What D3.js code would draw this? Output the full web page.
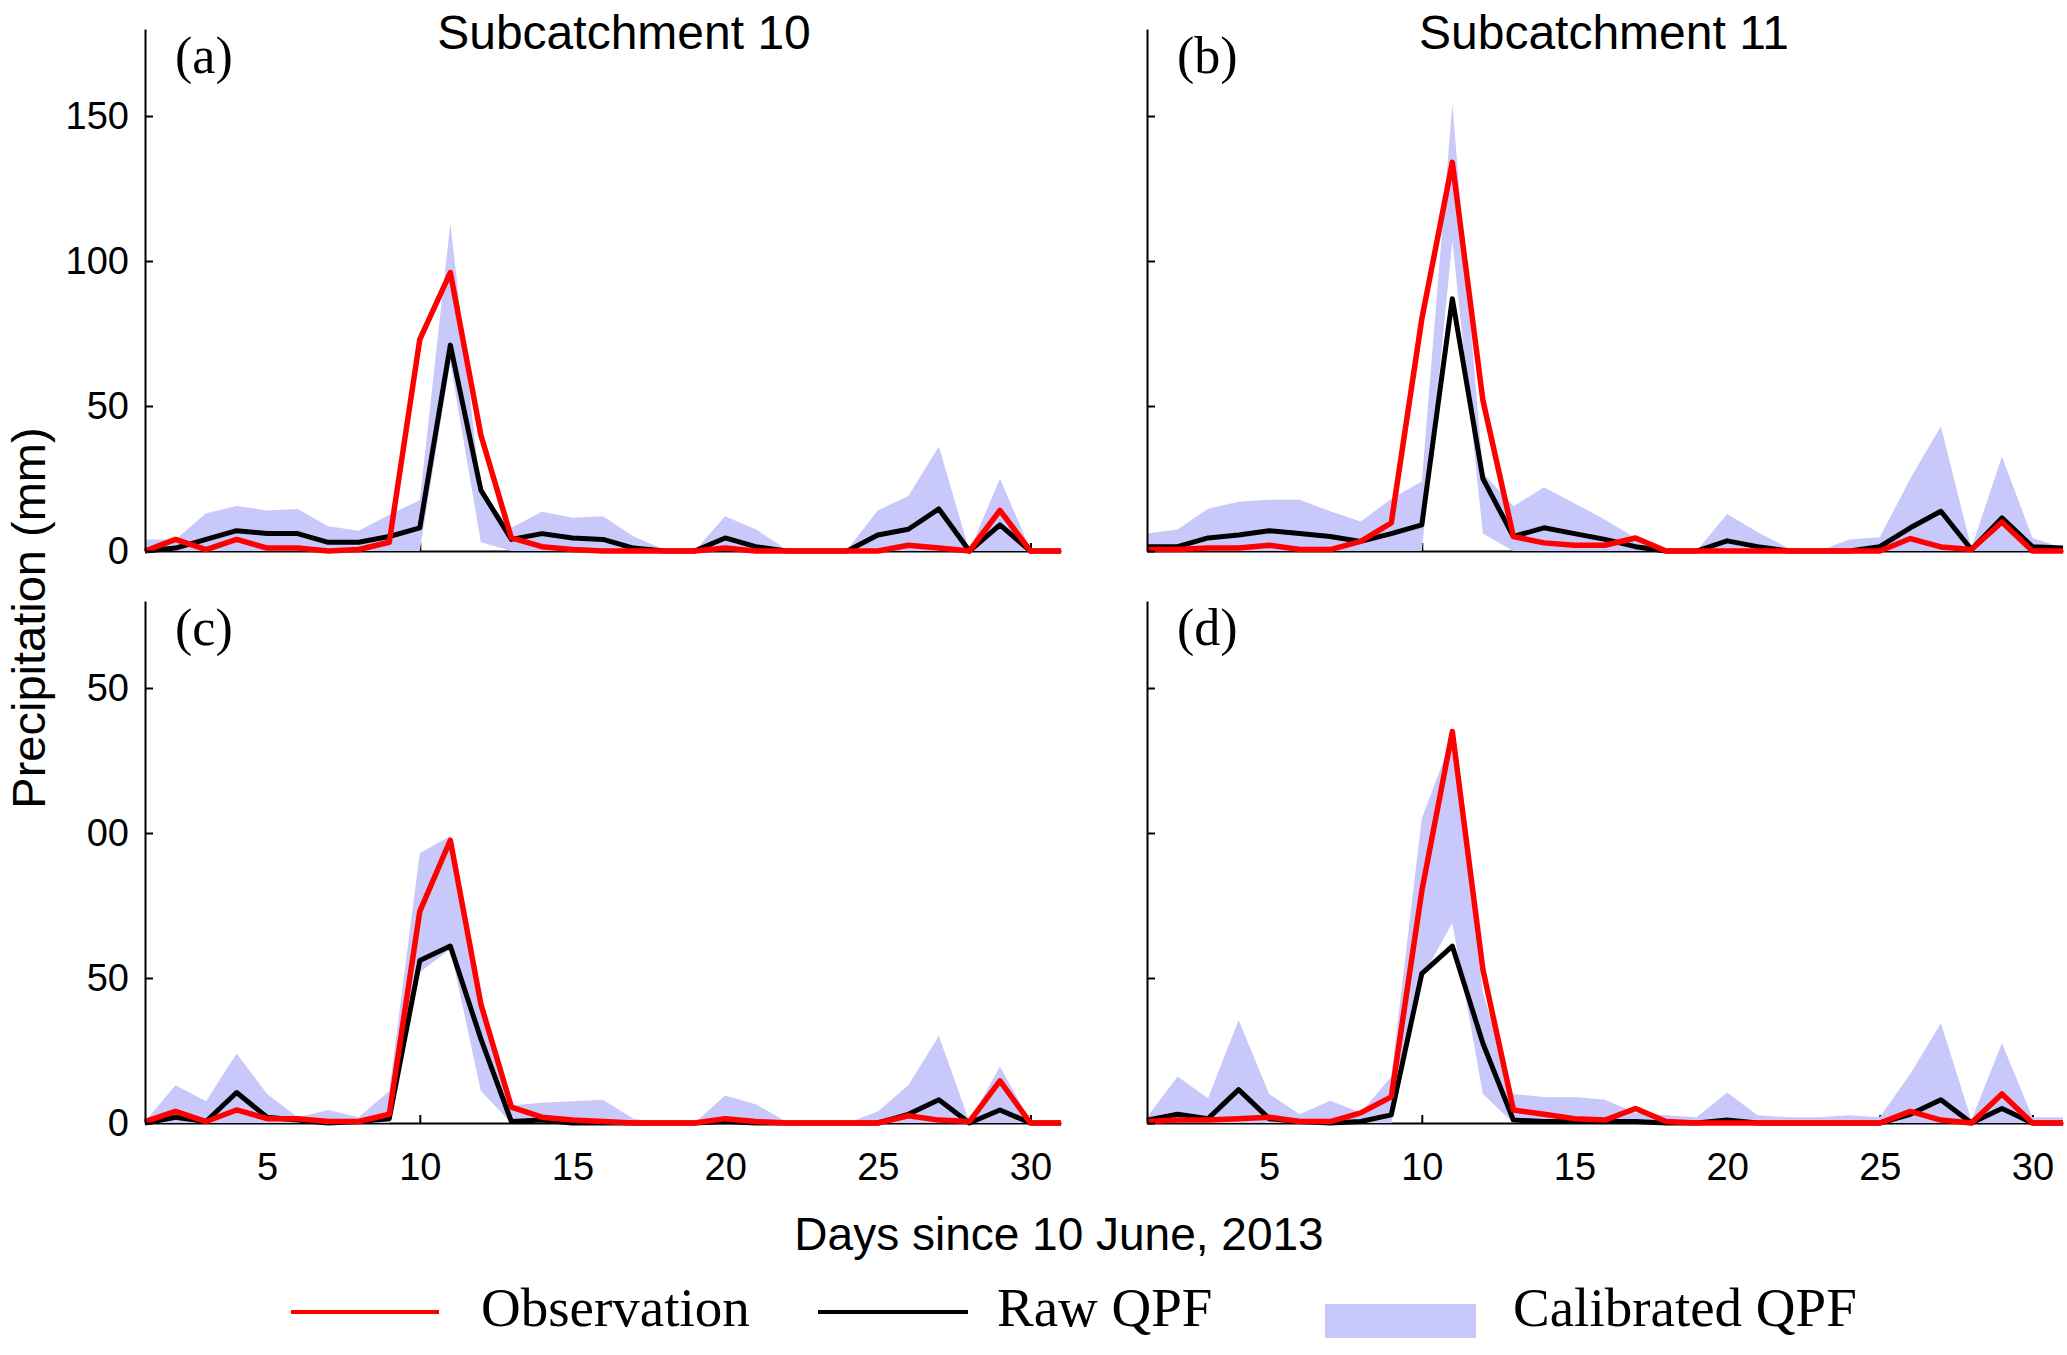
<!DOCTYPE html>
<html>
<head>
<meta charset="utf-8">
<script src="https://cdn.jsdelivr.net/npm/d3@7/dist/d3.min.js"></script>
<style>
	body { margin: 0; background: #fff; }
	.tick text { font-family: "Liberation Sans", Arial, sans-serif; }
</style>
</head>
<body>
<div id="chart"></div>
<script>

// Days since 10 June, 2013
var days = [1,2,3,4,5,6,7,8,9,10,11,12,13,14,15,16,17,18,19,20,21,22,23,24,25,26,27,28,29,30,31];

var xTicks = [5,10,15,20,25,30];
var yTicks = [0,50,100,150];
var yTickTextTop = ["0","50","100","150"];
var yTickTextBottom = ["0","50","00","50"];

var titles = ["Subcatchment 10", "Subcatchment 11"];
var panelLetters = ["(a)", "(b)", "(c)", "(d)"];

// (a) subcatchment 10, top row
var obsA = [0,4,0.5,4,1,1,0,0.5,3,73,96,40,4.5,1.5,0.5,0,0,0,0,1,0,0,0,0,0,2,1,0,14,0,0];
var rawA = [0,1,4,7,6,6,3,3,5,8,71,21,4,6,4.5,4,1,0,0,4.5,1.5,0,0,0,5.5,7.5,14.5,0,9,0,0];
var lowA = [0,0,0,0,0,0,0,0,0,0,65,3,0,0,0,0,0,0,0,0,0,0,0,0,0,0,0,0,0,0,0];
var upA  = [4,4,13,15.5,14,14.5,8.5,7,12.5,17.5,113,20,8,13.5,11.5,12,5,0.5,0,12,7.5,0.5,0,0.5,14,19,36,0,25,0.5,0];

// (b) subcatchment 11, top row
var obsB = [0.5,0.5,1,1,2,0.5,0.5,3.3,9.7,80,134,52,5,2.8,2,2,4.5,0,0,0,0,0,0,0,0,4.3,1.4,0.5,10,0,0];
var rawB = [1.5,1.5,4.5,5.5,7,6,5,3.3,6,9,87,25,5,8,6,4,1.5,0,0,3.5,1.5,0,0,0,1.5,8,13.7,0.5,11.4,1.5,1];
var lowB = [0,0,0,0,0,0,0,0,0,0,107,6,0,0,0,0,0,0,0,0,0,0,0,0,0,0,0,0,0,0,0];
var upB  = [6,7.4,14.6,17,17.7,17.7,13.7,10.2,18,24,154,27,15.4,22,16.5,10.8,4.5,0,0,12.8,6.5,1,0,4,4.7,25,43,1,32.6,4.5,1];

// (c) subcatchment 10, bottom row
var obsC = [0.5,4,0.5,4.5,1.5,1.5,0.5,0.5,3,73,97.5,41,5.5,2,1,0.5,0,0,0,1.5,0.5,0,0,0,0,2.5,1,0.5,14.5,0,0];
var rawC = [0,2,0.5,10.5,2,1,0,0.5,1.5,56,61,29,0.5,1,0,0,0,0,0,0.5,0,0,0,0,0,3,8,0,4.5,0,0];
var lowC = [0,0,0,0,0,0,0,0,0,52,60,11,0,0,0,0,0,0,0,0,0,0,0,0,0,0,0,0,0,0,0];
var upC  = [0.5,13,7.5,24,10,2,4.5,2,11,93,99,38,6,7,7.5,8,1.5,0,0,9.5,6.5,0.5,0,0,4,13,30,0.5,19.5,0.5,0];

// (d) subcatchment 11, bottom row
var obsD = [0.5,1,1,1.5,2,0.5,0.5,3.5,9,80,135,53,4.5,3,1.5,1,5,0.5,0,0,0,0,0,0,0,4,1,0,10,0,0];
var rawD = [1,3,1.5,11.5,1.5,0.5,0,0.5,2.8,51.5,61,27.5,1,0.5,0.5,0.5,0.5,0,0,1,0,0,0,0,0,3,8,0,5,0,0];
var lowD = [0,0,0,0,0,0,0,0,0,50,69,10,0,0,0,0,0,0,0,0,0,0,0,0,0,0,0,0,0,0,0];
var upD  = [2,16,8.5,35.5,10,3,7.7,3.5,16,105,133,45,10,9,9,8,3.5,2.7,2,10.5,2.7,2,2,2.7,2,17,34.4,1,27.5,2,2];

var legendLabels = ["Observation", "Raw QPF", "Calibrated QPF"];

var OBS_COLOR = "#ff0000",
	RAW_COLOR = "#000000",
	BAND_COLOR = "#c8c8fa";


var svg = d3.select("#chart").append("svg")
		.attr("width", 2067)
		.attr("height", 1355)
		.style("display", "block");


/*
 * PanelVis - one subplot
 */

PanelVis = function(_svg, _cfg){
	this.svg = _svg;
	this.cfg = _cfg;
	this.initVis();
}

PanelVis.prototype.initVis = function(){
	var vis = this;
	var c = vis.cfg;

	vis.width = 916;
	vis.height = 522;

	vis.g = vis.svg.append("g")
			.attr("transform", "translate(" + c.left + "," + (c.zero - vis.height) + ")");

	vis.x = d3.scaleLinear()
			.domain([1, 31])
			.range([0, vis.width]);

	vis.y = d3.scaleLinear()
			.domain([0, 180])
			.range([vis.height, 0]);

	vis.xAxis = d3.axisBottom(vis.x)
			.tickValues(xTicks)
			.tickSize(-8)
			.tickSizeOuter(0)
			.tickPadding(30)
			.tickFormat(function(d) { return c.showX ? d : ""; });

	vis.yAxis = d3.axisLeft(vis.y)
			.tickValues(yTicks)
			.tickSize(-8)
			.tickSizeOuter(0)
			.tickPadding(16)
			.tickFormat(function(d, i) { return c.yText ? c.yText[i] : ""; });

	vis.wrangleData();
}

PanelVis.prototype.wrangleData = function(){
	var vis = this;
	var c = vis.cfg;

	vis.displayData = days.map(function(day, i) {
		return { day: day, obs: c.obs[i], raw: c.raw[i], low: c.low[i], up: c.up[i] };
	});

	vis.updateVis();
}

PanelVis.prototype.updateVis = function(){
	var vis = this;
	var c = vis.cfg;

	// x axis sits underneath the band, like in the original
	var xg = vis.g.append("g")
			.attr("class", "x-axis axis")
			.attr("transform", "translate(0," + vis.height + ")")
			.call(vis.xAxis);

	var band = d3.area()
			.x(function(d) { return vis.x(d.day); })
			.y0(function(d) { return vis.y(d.low); })
			.y1(function(d) { return vis.y(d.up); });

	vis.g.append("path")
			.datum(vis.displayData)
			.attr("fill", BAND_COLOR)
			.attr("d", band);

	var rawLine = d3.line()
			.x(function(d) { return vis.x(d.day); })
			.y(function(d) { return vis.y(d.raw); });

	var obsLine = d3.line()
			.x(function(d) { return vis.x(d.day); })
			.y(function(d) { return vis.y(d.obs); });

	vis.g.append("path")
			.datum(vis.displayData)
			.attr("fill", "none")
			.attr("stroke", RAW_COLOR)
			.attr("stroke-width", 5)
			.attr("stroke-linejoin", "round")
			.attr("d", rawLine);

	vis.g.append("path")
			.datum(vis.displayData)
			.attr("fill", "none")
			.attr("stroke", OBS_COLOR)
			.attr("stroke-width", 5.5)
			.attr("stroke-linejoin", "round")
			.attr("d", obsLine);

	var yg = vis.g.append("g")
			.attr("class", "y-axis axis")
			.call(vis.yAxis);

	[xg, yg].forEach(function(a) {
		a.selectAll("path, line").attr("stroke", "#000").attr("stroke-width", 2);
		a.selectAll("text")
				.attr("fill", "#000")
				.style("font-family", "'Liberation Sans', Arial, sans-serif")
				.style("font-size", "38px");
	});

	vis.g.append("text")
			.attr("x", 30)
			.attr("y", 44)
			.style("font-family", "'Liberation Serif', 'Times New Roman', serif")
			.style("font-size", "52px")
			.text(c.letter);

	if (c.title) {
		vis.g.append("text")
				.attr("x", c.titleX)
				.attr("y", 20)
				.attr("text-anchor", "middle")
				.style("font-family", "'Liberation Sans', Arial, sans-serif")
				.style("font-size", "48px")
				.text(c.title);
	}
}


var panels = [
	{ left: 145,  zero: 551,  obs: obsA, raw: rawA, low: lowA, up: upA, yText: yTickTextTop,    showX: false, letter: panelLetters[0], title: titles[0], titleX: 479 },
	{ left: 1147, zero: 551,  obs: obsB, raw: rawB, low: lowB, up: upB, yText: null,            showX: false, letter: panelLetters[1], title: titles[1], titleX: 457 },
	{ left: 145,  zero: 1123, obs: obsC, raw: rawC, low: lowC, up: upC, yText: yTickTextBottom, showX: true,  letter: panelLetters[2], title: null },
	{ left: 1147, zero: 1123, obs: obsD, raw: rawD, low: lowD, up: upD, yText: null,            showX: true,  letter: panelLetters[3], title: null }
];

panels.forEach(function(p) { new PanelVis(svg, p); });


// shared axis labels
svg.append("text")
		.attr("x", 1059)
		.attr("y", 1250)
		.attr("text-anchor", "middle")
		.style("font-family", "'Liberation Sans', Arial, sans-serif")
		.style("font-size", "46px")
		.text("Days since 10 June, 2013");

svg.append("text")
		.attr("transform", "translate(45,618) rotate(-90)")
		.attr("text-anchor", "middle")
		.style("font-family", "'Liberation Sans', Arial, sans-serif")
		.style("font-size", "47px")
		.text("Precipitation (mm)");


// legend
var legend = svg.append("g").attr("class", "legend");
var legendFont = "'Liberation Serif', 'Times New Roman', serif";

legend.append("line")
		.attr("x1", 291).attr("x2", 439)
		.attr("y1", 1312).attr("y2", 1312)
		.attr("stroke", OBS_COLOR)
		.attr("stroke-width", 4);

legend.append("line")
		.attr("x1", 818).attr("x2", 968)
		.attr("y1", 1312).attr("y2", 1312)
		.attr("stroke", RAW_COLOR)
		.attr("stroke-width", 4);

legend.append("rect")
		.attr("x", 1325).attr("y", 1304)
		.attr("width", 151).attr("height", 34)
		.attr("fill", BAND_COLOR);

var legendX = [481, 997, 1513];
legend.selectAll(".legend-label")
		.data(legendLabels)
		.enter()
		.append("text")
		.attr("class", "legend-label")
		.attr("x", function(d, i) { return legendX[i]; })
		.attr("y", 1326)
		.style("font-family", legendFont)
		.style("font-size", "55px")
		.text(function(d) { return d; });

</script>
</body>
</html>
